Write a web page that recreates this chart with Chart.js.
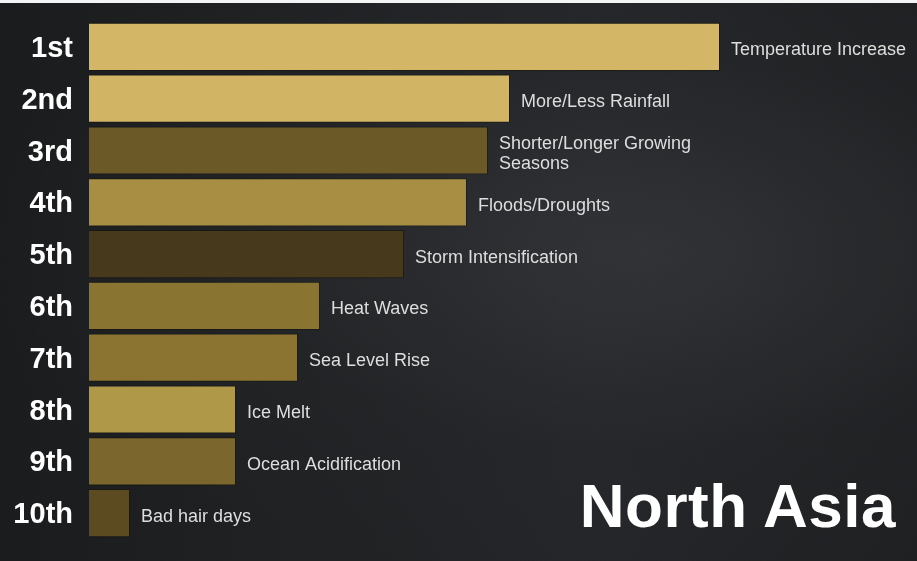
<!DOCTYPE html>
<html>
<head>
<meta charset="utf-8">
<script src="https://cdn.jsdelivr.net/npm/chart.js@4"></script>
<style>
  html, body { margin: 0; padding: 0; background: #ffffff; }
  #wrap {
    position: relative; width: 917px; height: 561px; overflow: hidden;
    background:
      radial-gradient(ellipse at 70% 45%, rgba(60,62,66,0.55) 0%, rgba(40,41,44,0.3) 45%, rgba(0,0,0,0) 75%),
      linear-gradient(90deg, #1b1c1e 0%, #202123 30%, #252629 65%, #1f2022 100%);
  }
  #topline { position: absolute; left: 0; top: 0; width: 917px; height: 3px; background: #f4f4f4; }
  #region {
    position: absolute; right: 21px; top: 475px;
    font-family: "Liberation Sans", Arial, sans-serif; font-weight: bold;
    font-size: 62px; color: #ffffff; line-height: 1; letter-spacing: 0.5px;
  }
</style>
</head>
<body>
<div id="wrap">
  <canvas id="c" width="917" height="561"></canvas>
  <div id="topline"></div>
  <div id="region">North Asia</div>
</div>
<script>
// ---- data ----
const ranks = ['1st','2nd','3rd','4th','5th','6th','7th','8th','9th','10th'];
const impacts = [
  'Temperature Increase',
  'More/Less Rainfall',
  ['Shorter/Longer Growing', 'Seasons'],
  'Floods/Droughts',
  'Storm Intensification',
  'Heat Waves',
  'Sea Level Rise',
  'Ice Melt',
  'Ocean Acidification',
  'Bad hair days'
];
const scores = [63.1, 42.1, 39.9, 37.8, 31.5, 23.1, 20.9, 14.7, 14.7, 4.1];
const barColors = ['#d3b766','#d2b564','#6b5927','#a78e42','#46391c','#8a7431','#8b7432','#b09849','#7b662e','#5c4b21'];
const xMax = 82.8;

const labelPlugin = {
  id: 'impactLabels',
  afterDatasetsDraw(chart) {
    const ctx = chart.ctx;
    const meta = chart.getDatasetMeta(0);
    ctx.save();
    ctx.font = '18px "Liberation Sans", Arial, sans-serif';
    ctx.fillStyle = '#dedede';
    ctx.textAlign = 'left';
    ctx.textBaseline = 'middle';
    meta.data.forEach((bar, i) => {
      const lines = Array.isArray(impacts[i]) ? impacts[i] : [impacts[i]];
      const lh = 20;
      const y0 = bar.y + 3.5 - (lines.length - 1) * lh / 2;
      lines.forEach((t, k) => ctx.fillText(t, bar.x + 11, y0 + k * lh));
    });
    ctx.restore();
  }
};

new Chart(document.getElementById('c'), {
  type: 'bar',
  data: {
    labels: ranks,
    datasets: [{
      data: scores,
      backgroundColor: barColors,
      borderColor: 'rgba(20,18,10,0.55)',
      borderWidth: 1,
      barPercentage: 0.93,
      categoryPercentage: 1.0
    }]
  },
  options: {
    indexAxis: 'y',
    responsive: false,
    animation: false,
    layout: { autoPadding: false, padding: { top: 21, bottom: 22, left: 0, right: 0 } },
    plugins: { legend: { display: false }, tooltip: { enabled: false } },
    scales: {
      x: { display: false, min: 0, max: xMax },
      y: {
        afterFit(scale) { scale.width = 89; scale.paddingTop = 0; scale.paddingBottom = 0; },
        grid: { display: false, drawTicks: false },
        border: { display: false },
        ticks: {
          color: '#ffffff',
          padding: 16,
          labelOffset: 2,
          font: { family: '"Liberation Sans", Arial, sans-serif', size: 29, weight: 'bold', lineHeight: 0.5 }
        }
      }
    }
  },
  plugins: [labelPlugin]
});
</script>
</body>
</html>
